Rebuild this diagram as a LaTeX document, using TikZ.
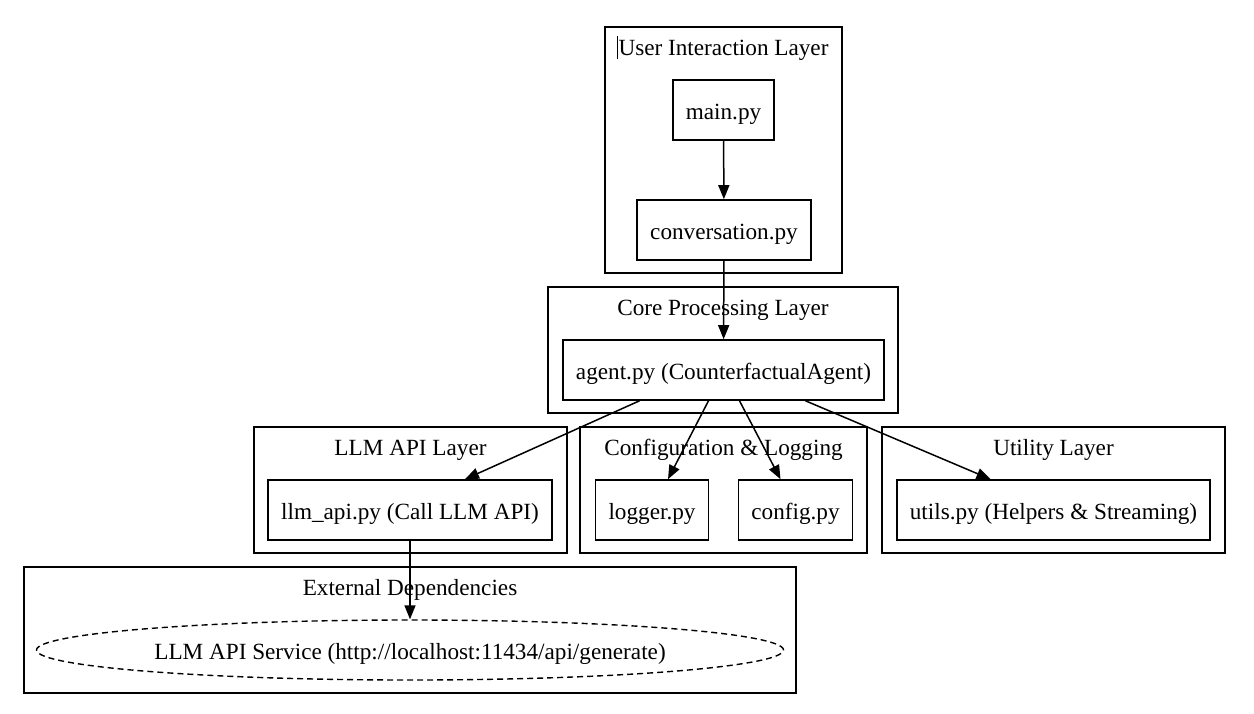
\documentclass[tikz,border=0pt]{standalone}
\usepackage{fontspec}
\setmainfont{Liberation Serif}
\usetikzlibrary{arrows.meta, shapes.geometric}

\begin{document}
\begin{tikzpicture}[
			x=1pt, y=-1pt,
			every node/.style={font=\fontsize{23.2}{28}\selectfont},
			file/.style={draw, line width=1.6pt, minimum height=60pt, inner xsep=13pt, inner ysep=0pt, text height=18pt, text depth=0pt},
			cluster/.style={draw, line width=1.6pt, minimum width=#1, inner sep=0pt, minimum height=126pt},
			layer/.style={anchor=center, yshift=-24pt},
			->, >={Triangle[length=14pt, width=11pt]}, line width=1.5pt,
			]
			\useasboundingbox (0,0) rectangle (1254,713);
			
			% Schichten
			\node[cluster=237pt, minimum height=246pt, label={[layer]north:User Interaction Layer}] (UserLayer) at (723.5,150) {};
			\node[cluster=350pt, label={[layer]north:Core Processing Layer}] (CoreLayer) at (723,350) {};
			\node[cluster=313pt, label={[layer]north:LLM API Layer}] (LLMLayer) at (410.5,490) {};
			\node[cluster=287pt, label={[layer]north:Configuration \& Logging}] (ConfLayer) at (723.5,490) {};
			\node[cluster=343pt, label={[layer]north:Utility Layer}] (UtilLayer) at (1053.5,490) {};
			\node[cluster=772pt, label={[layer]north:External Dependencies}] (ExtLayer) at (410,630) {};
			\draw[-, line width=0.9pt] ([xshift=13pt,yshift=-10pt]UserLayer.north west) -- ++(0,23);
			
			% Dateien
			\node[file] (main) at (723.5,110) {main.py};
			\node[file] (conversation) at (724,230) {conversation.py};
			\node[file] (agent) at (723.5,370) {agent.py (CounterfactualAgent)};
			\node[file] (llmapi) at (410,510) {llm\_api.py (Call LLM API)};
			\node[file] (logger) at (652,510) {logger.py};
			\node[file] (config) at (795.5,510) {config.py};
			\node[file] (utils) at (1053.5,510) {utils.py (Helpers \& Streaming)};
			\node[draw, ellipse, dash pattern=on 6pt off 4pt, line width=1.4pt, minimum width=747pt, minimum height=60pt, inner sep=0pt, text height=18pt, text depth=0pt] (service) at (410,650) {LLM API Service (http://localhost:11434/api/generate)};
			
			% Verbindungen
			\path
			(main) edge (conversation)
			(conversation) edge (agent)
			([xshift=-84pt]agent.south) edge ([xshift=55pt]llmapi.north)
			([xshift=-15pt]agent.south) edge ([xshift=16pt]logger.north)
			([xshift=16pt]agent.south) edge ([xshift=-15pt]config.north)
			([xshift=82pt]agent.south) edge ([xshift=-63pt]utils.north)
			(llmapi) edge (service.north)
			;
			
		\end{tikzpicture}
\end{document}
